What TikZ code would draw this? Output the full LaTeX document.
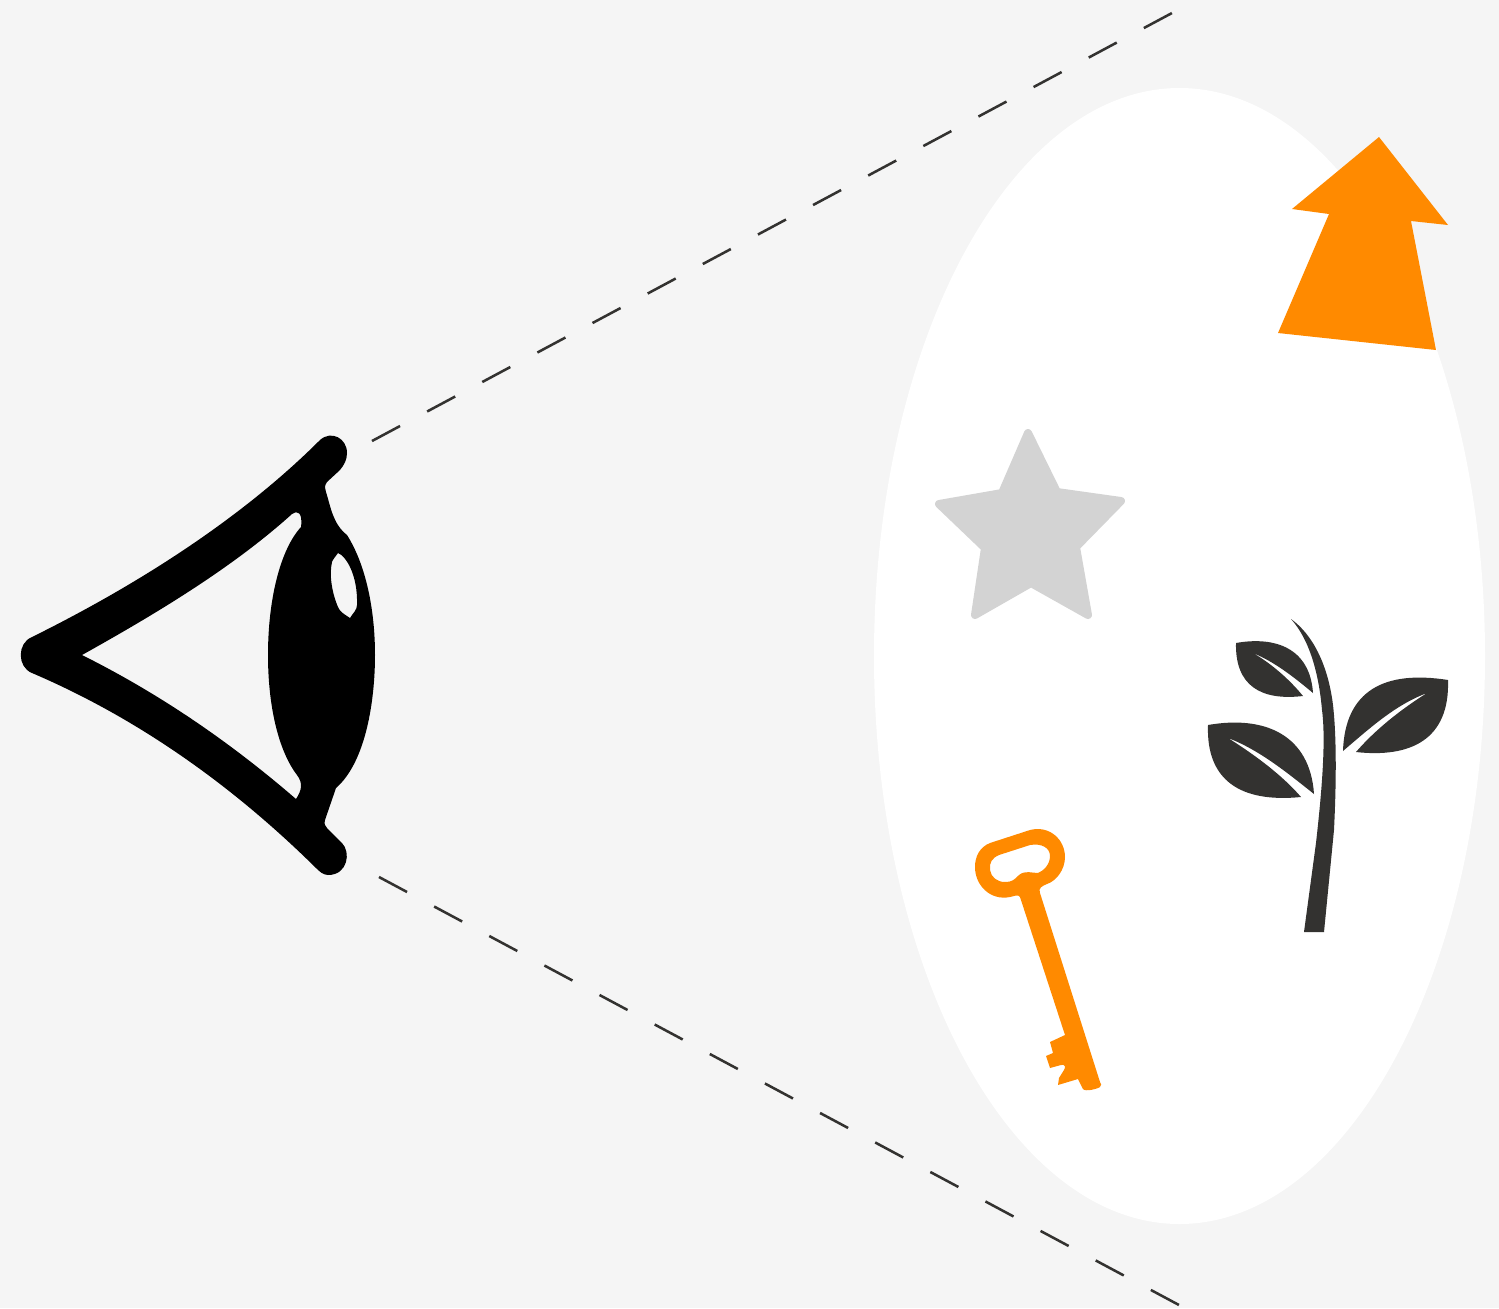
\documentclass[tikz,border=0pt]{standalone}
\definecolor{latar}{HTML}{F5F5F5}
\definecolor{jingga}{HTML}{FF8A00}
\definecolor{arang}{HTML}{333230}
\definecolor{kelabu}{HTML}{D3D3D3}
\begin{document}
\begin{tikzpicture}[x=0.01cm, y=-0.01cm,
      sightline/.style={draw=arang, line width=0.72pt, dash pattern=on 9.05pt off 8.73pt},
      eyeshape/.style={fill=black, even odd rule},
      keyshape/.style={fill=jingga, even odd rule},
      starshape/.style={fill=kelabu, draw=kelabu, line width=2.27pt, line join=round},
      leafshape/.style={fill=arang}]
    \fill[latar] (0,0) rectangle (1499,1308);
    \useasboundingbox (0,0) rectangle (1499,1308);
    \fill[white] (1179.5,656) ellipse [x radius=305.5, y radius=568];
    % sight lines
    \coordinate (topstart) at (372,441);
    \coordinate (topend) at (1172,13);
    \coordinate (botstart) at (379,877);
    \coordinate (botend) at (1179,1305);
    \draw[sightline] (topstart) -- (topend);
    \draw[sightline] (botstart) -- (botend);
    % eye
    \fill[eyeshape] (320,440) .. controls (331,430) and (347,438) .. (347,453)
      .. controls (347,460) and (344,465) .. (340,470)
      -- (327,482) .. controls (324,486) and (325,489) .. (326,492)
      .. controls (331,508) and (333,524) .. (347,535)
      .. controls (366,565) and (375,610) .. (375,655)
      .. controls (375,700) and (366,762) .. (336,788)
      -- (325,820) .. controls (324,824) and (325,826) .. (327,828)
      -- (342,843) .. controls (351,852) and (348,875) .. (328,875)
      .. controls (323,875) and (319,871) .. (316,868)
      .. controls (230,783) and (135,717) .. (32,673)
      .. controls (17,667) and (17,643) .. (32,637)
      .. controls (135,586) and (240,520) .. (320,440) -- cycle
      (82,655) .. controls (150,617) and (230,570) .. (292,514)
      .. controls (297,510) and (303,512) .. (301,527)
      .. controls (280,550) and (268,600) .. (268,655)
      .. controls (268,705) and (278,750) .. (297,775)
      .. controls (303,783) and (302,790) .. (296,799)
      .. controls (230,742) and (160,694) .. (82,655) -- cycle
      (338,553) .. controls (346,556) and (358,575) .. (357,605)
      .. controls (357,610) and (353,613) .. (350,618)
      .. controls (344,614) and (340,612) .. (338,607)
      .. controls (332,593) and (329,575) .. (332,562)
      .. controls (333,559) and (336,556) .. (338,553) -- cycle;
    % arrow
    \fill[jingga] (1379,137) -- (1448,225) -- (1411,221) -- (1436,350)
      -- (1278,333) -- (1329,214) -- (1292,209) -- cycle;
    % star
    \filldraw[starshape] (1028,433) -- (1057,492) -- (1121,501) -- (1076,547) -- (1088,615)
      -- (1031,583) -- (975,615) -- (985,548) -- (939,504) -- (1002,493) -- cycle;
    % key
    \fill[keyshape] (1020,897) -- (1065,1035) -- (1050,1042) -- (1053,1053) -- (1046,1056)
      -- (1050,1068) -- (1061,1065) .. controls (1065,1064) and (1066,1067) .. (1064,1070)
      -- (1059,1078) -- (1058,1085) -- (1078,1079) -- (1083,1089)
      .. controls (1085,1092) and (1097,1089) .. (1100,1087)
      .. controls (1102,1085) and (1101,1084) .. (1100,1082)
      -- (1040,893) .. controls (1038,888) and (1042,886) .. (1047,884)
      .. controls (1056,881) and (1065,870) .. (1065,857)
      .. controls (1065,840) and (1050,825) .. (1030,830)
      -- (990,843) .. controls (980,847) and (975,856) .. (975,867)
      .. controls (975,885) and (990,901) .. (1010,897)
      .. controls (1015,896) and (1018,894) .. (1020,897) -- cycle
      (990,870) .. controls (989,863) and (992,858) .. (999,855)
      -- (1030,845) .. controls (1042,843) and (1050,848) .. (1050,856)
      .. controls (1050,865) and (1043,871) .. (1038,873)
      .. controls (1032,873) and (1025,870) .. (1019,875)
      .. controls (1014,880) and (1012,882) .. (1005,882)
      .. controls (997,882) and (991,877) .. (990,870) -- cycle;
    % plant
    \fill[leafshape] (1291,619) .. controls (1320,640) and (1330,680) .. (1333,705)
      .. controls (1337,740) and (1336,790) .. (1334,830)
      -- (1324,932) -- (1304,932) -- (1316,843)
      .. controls (1322,790) and (1326,740) .. (1322,710)
      .. controls (1319,675) and (1310,640) .. (1291,619) -- cycle;
    \fill[leafshape] (1236,643) .. controls (1275,636) and (1310,648) .. (1313,693)
      .. controls (1295,678) and (1275,662) .. (1253,653)
      .. controls (1272,664) and (1290,680) .. (1303,696)
      .. controls (1260,701) and (1235,685) .. (1236,643) -- cycle;
    \fill[leafshape] (1208,725) .. controls (1265,715) and (1310,735) .. (1314,794)
      .. controls (1290,775) and (1260,750) .. (1228,738)
      .. controls (1255,755) and (1282,775) .. (1301,797)
      .. controls (1240,803) and (1206,780) .. (1208,725) -- cycle;
    \fill[leafshape] (1448,680) .. controls (1385,670) and (1345,690) .. (1343,751)
      .. controls (1370,728) and (1395,705) .. (1427,693)
      .. controls (1400,710) and (1375,730) .. (1356,752)
      .. controls (1410,758) and (1450,740) .. (1448,680) -- cycle;
  \end{tikzpicture}
\end{document}
